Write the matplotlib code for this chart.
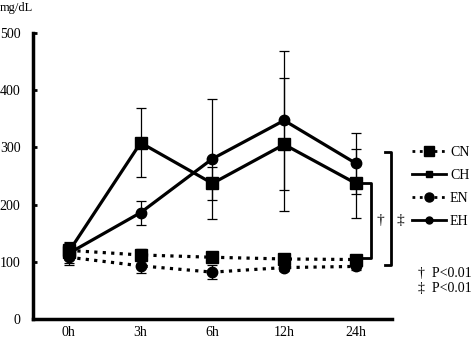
import numpy as np
import matplotlib
matplotlib.use("Agg")
import matplotlib.pyplot as plt
from matplotlib.lines import Line2D

plt.rcParams['font.family'] = ['Liberation Serif', 'DejaVu Serif']

times = ['0h', '3h', '6h', '12h', '24h']
cn = [120, 112, 108, 105, 104]
cn_err = [12, 10, 8, 6, 6]
ch = [118, 308, 237, 305, 237]
ch_err = [15, 60, 29, 116, 60]
en = [108, 93, 82, 90, 92]
en_err = [10, 12, 12, 6, 7]
eh = [115, 186, 280, 347, 272]
eh_err = [20, 21, 105, 122, 53]

fig = plt.figure(figsize=(4.72, 3.42), dpi=100)
ax = fig.add_axes([0.07, 0.067, 0.76, 0.837])
x = np.arange(len(times))

def series(y, err, ls, mk, ms):
    ax.errorbar(x, y, yerr=err, color='black', ls=ls, lw=2.3, marker=mk, ms=ms,
                elinewidth=0.9, capsize=3.5, capthick=0.9, clip_on=False, zorder=3)

series(cn, cn_err, ':', 's', 8)
series(en, en_err, ':', 'o', 7.5)
series(ch, ch_err, '-', 's', 8)
series(eh, eh_err, '-', 'o', 7.5)

ax.set_xlim(-0.5, 4.5)
ax.set_ylim(0, 500)
ax.set_xticks(x)
ax.set_xticklabels(times)
ax.set_yticks(range(0, 501, 100))
ax.tick_params(axis='x', length=0, pad=5, labelsize=10)
ax.tick_params(axis='y', direction='in', length=3, width=2, pad=9, labelsize=10)
for s in ['top', 'right']:
    ax.spines[s].set_visible(False)
for s in ['left', 'bottom']:
    ax.spines[s].set_linewidth(2.5)

# significance brackets
b1 = [4.09, 4.21, 237, 106]
b2 = [4.40, 4.49, 292, 95]
for x0, x1, top, bot in [b1, b2]:
    ax.plot([x0, x1, x1, x0], [top, top, bot, bot], color='black', lw=2, clip_on=False)
ax.text(4.34, 172, '\u2020', ha='center', va='center', fontsize=11)
ax.text(4.62, 172, '\u2021', ha='center', va='center', fontsize=11)

handles = [
    Line2D([], [], color='black', ls=':', lw=2, marker='s', ms=6.5),
    Line2D([], [], color='black', ls='-', lw=2, marker='s', ms=5),
    Line2D([], [], color='black', ls=':', lw=2, marker='o', ms=6.5),
    Line2D([], [], color='black', ls='-', lw=2, marker='o', ms=5),
]
ax.legend(handles, ['CN', 'CH', 'EN', 'EH'], loc='upper left',
          bbox_to_anchor=(0.862, 0.59), bbox_transform=fig.transFigure,
          frameon=False, fontsize=10, handlelength=2.4, handletextpad=0.3,
          labelspacing=0.72, borderaxespad=0)

fig.text(0.885, 0.2, '\u2020  P<0.01', fontsize=10, va='center')
fig.text(0.885, 0.157, '\u2021  P<0.01', fontsize=10, va='center')
fig.text(0.0, 0.976, 'mg/dL', fontsize=9, va='center')

fig.savefig('out.png', dpi=100)
